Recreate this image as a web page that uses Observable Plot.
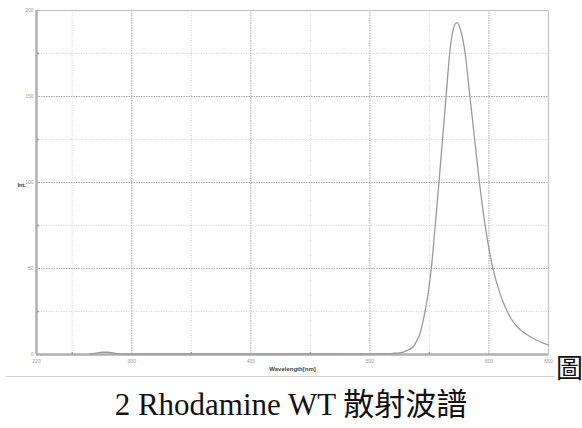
<!DOCTYPE html>
<html>
<head>
<meta charset="utf-8">
<script src="https://cdn.jsdelivr.net/npm/d3@7"></script>
<script src="https://cdn.jsdelivr.net/npm/@observablehq/plot@0.6"></script>
<style>
  html, body { margin: 0; padding: 0; background: #fff; }
  #wrap { position: relative; width: 582px; height: 428px; overflow: hidden; }
  #chart { position: absolute; left: 0; top: 0; }
  #rule { position: absolute; left: 6px; top: 376px; width: 549px; height: 0; border-top: 1.5px solid #d4d4d4; }
  #fig { position: absolute; left: 556px; top: 353px; font: 27px "Noto Sans CJK TC", "Liberation Serif", serif; line-height: 1; color: #111; }
  #caption { position: absolute; left: 0; top: 388px; width: 582px; text-align: center;
    font-family: "Liberation Serif", "Times New Roman", "Noto Sans CJK TC", serif; font-size: 31px; line-height: 34px; color: #111; }
</style>
</head>
<body>
<div id="wrap">
  <div id="chart"></div>
  <div id="rule"></div>
  <div id="fig">圖</div>
  <div id="caption">2 Rhodamine WT 散射波譜</div>
</div>
<script>
// Data
const wavelength = [265, 270, 275, 280, 285, 290, 300, 350, 400, 450, 500, 510, 520, 525, 528, 532, 536, 539, 542, 546, 549, 552, 555, 558, 561, 564, 567, 570, 573, 576, 580, 584, 588, 592, 597, 603, 609, 614, 618, 622, 627, 632, 640, 650];
const intensity  = [0.3, 0.8, 1.3, 1.3, 0.8, 0.4, 0.3, 0.3, 0.3, 0.3, 0.4, 0.5, 0.7, 1.0, 1.4, 2.5, 4.2, 7.5, 12, 24, 36, 53, 76, 100, 125, 150, 175, 189, 193, 189, 175, 150, 125, 100, 74, 51, 36, 27, 21.5, 17.5, 14, 11.5, 8.3, 5.5];

const xTicks = [220, 300, 400, 500, 600, 650];
const xMinor = [250, 350, 450, 550];
const xMajorGrid = [300, 400, 500, 600];
const yTicks = [0, 50, 100, 150, 200];
const yMinor = [25, 75, 125, 175];
const yMajorGrid = [50, 100, 150];
const xTitle = "Wavelength[nm]";
const yTitle = "Int.";

const data = wavelength.map((w, i) => ({w, v: intensity[i]}));

const plot = Plot.plot({
  width: 582,
  height: 380,
  marginLeft: 36,
  marginRight: 34,
  marginTop: 10,
  marginBottom: 26,
  style: { fontFamily: "Liberation Sans, Arial, sans-serif", fontSize: "5px", background: "#fff" },
  x: { type: "linear", domain: [220, 650] },
  y: { type: "linear", domain: [0, 200] },
  marks: [
    Plot.ruleX(xMinor, { stroke: "#c8c8c8", strokeWidth: 0.8, strokeDasharray: "1,1.5" }),
    Plot.ruleY(yMinor, { stroke: "#c8c8c8", strokeWidth: 0.8, strokeDasharray: "1,1.5" }),
    Plot.ruleX(xMajorGrid, { stroke: "#a8a8a8", strokeWidth: 1, strokeDasharray: "1.5,1" }),
    Plot.ruleY(yMajorGrid, { stroke: "#a8a8a8", strokeWidth: 1, strokeDasharray: "1.5,1" }),
    Plot.frame({ stroke: "#c4c4c4", strokeWidth: 1.2 }),
    Plot.ruleX([220], { stroke: "#b0b0b0", strokeWidth: 2.5 }),
    Plot.ruleY([0], { stroke: "#b0b0b0", strokeWidth: 2.5 }),
    Plot.dot(yMinor, { x: () => 220, y: d => d, dx: 1.5, r: 0.9, fill: "#999", stroke: null }),
    Plot.dot(xMinor, { x: d => d, y: () => 0, dy: -1.5, r: 0.9, fill: "#999", stroke: null }),
    Plot.axisX({ ticks: xTicks, tickSize: 0, tickPadding: 5, fill: "#999", fontSize: 5, label: null }),
    Plot.axisY({ ticks: yTicks, tickSize: 0, tickPadding: 3, fill: "#999", fontSize: 5, label: null }),
    Plot.line(data, { x: "w", y: "v", stroke: "#9a9a9a", strokeWidth: 1.3, curve: "monotone-x" }),
    Plot.text([xTitle], { text: d => d, frameAnchor: "bottom", dy: 16, fontSize: 6, fontWeight: "bold", fill: "#444" }),
    Plot.text([yTitle], { text: d => d, frameAnchor: "left", dx: -19, dy: 3, fontSize: 5.5, fontWeight: "bold", fill: "#333" })
  ]
});
document.getElementById("chart").appendChild(plot);
</script>
</body>
</html>
